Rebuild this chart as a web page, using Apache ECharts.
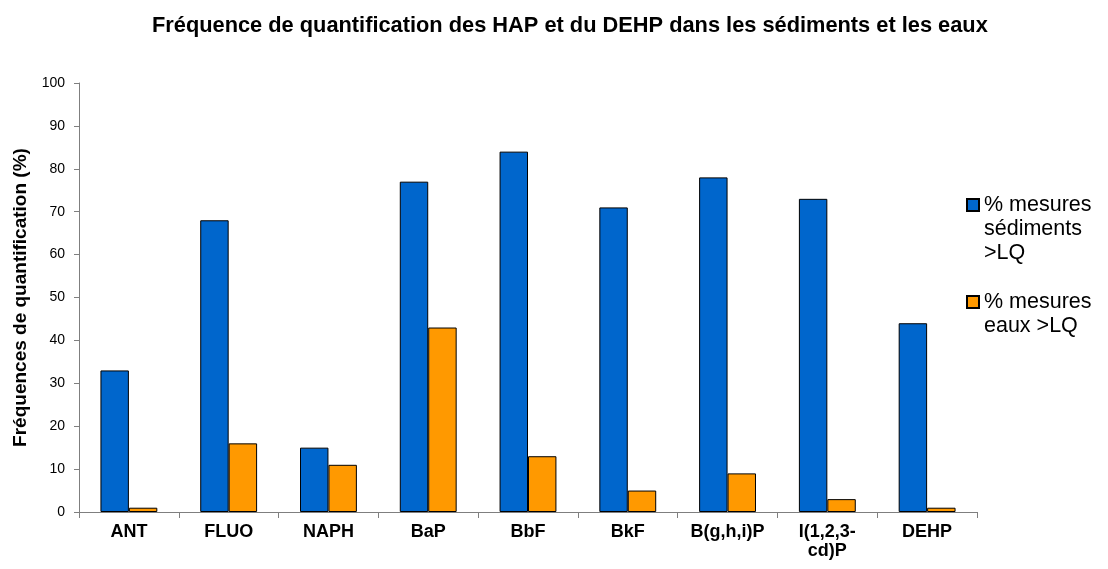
<!DOCTYPE html>
<html>
<head>
<meta charset="utf-8">
<script src="https://cdn.jsdelivr.net/npm/echarts@6/dist/echarts.min.js"></script>
<style>
  html, body { margin: 0; padding: 0; background: #fff; }
  #chart { width: 1108px; height: 569px; }
</style>
</head>
<body>
<div id="chart"></div>
<script>
var categories = ['ANT', 'FLUO', 'NAPH', 'BaP', 'BbF', 'BkF', 'B(g,h,i)P', 'I(1,2,3-\ncd)P', 'DEHP'];
var sediments = [33, 68, 15, 77, 84, 71, 78, 73, 44];
var eaux = [1, 16, 11, 43, 13, 5, 9, 3, 1];
var yTicks = { min: 0, max: 100, interval: 10 };

var nameSed = '% mesures\nsédiments\n>LQ';
var nameEaux = '% mesures\neaux >LQ';

var font = 'Liberation Sans, Arial, sans-serif';
var myChart = echarts.init(document.getElementById('chart'));

// legend text is centred on its icon, so pad the front with empty lines
// to put the icon level with the first line
function legendText(name) {
    var n = name.split('\n').length;
    var pad = '';
    for (var i = 1; i < n; i++) pad += '\n';
    return pad + name;
}

var legendBase = {
    orient: 'vertical',
    left: 966,
    padding: 0,
    icon: 'rect',
    itemWidth: 12,
    itemHeight: 12,
    itemGap: 8,
    formatter: legendText,
    textStyle: { fontFamily: font, fontSize: 21.5, color: '#000', lineHeight: 24 }
};

var option = {
    animation: false,
    title: {
        text: 'Fréquence de quantification des HAP et du DEHP dans les sédiments et les eaux',
        left: 147,
        top: 10,
        textStyle: { fontFamily: font, fontSize: 21.8, fontWeight: 'bold', color: '#000' }
    },
    legend: [
        Object.assign({}, legendBase, { top: 145, data: [nameSed] }),
        Object.assign({}, legendBase, { top: 266, data: [nameEaux] })
    ],
    grid: { left: 79, right: 131, top: 83, bottom: 57 },
    xAxis: {
        type: 'category',
        data: categories,
        axisLine: { lineStyle: { color: '#7f7f7f', width: 1 } },
        axisTick: { show: true, length: 6, inside: false, lineStyle: { color: '#7f7f7f' } },
        axisLabel: {
            interval: 0, margin: 11, color: '#000',
            fontFamily: font, fontSize: 18, fontWeight: 'bold', lineHeight: 19
        }
    },
    yAxis: {
        type: 'value',
        min: yTicks.min,
        max: yTicks.max,
        interval: yTicks.interval,
        name: 'Fréquences de quantification (%)',
        nameLocation: 'middle',
        nameGap: 47,
        nameTextStyle: { fontFamily: font, fontSize: 19, fontWeight: 'bold', color: '#000' },
        splitLine: { show: false },
        axisLine: { show: true, lineStyle: { color: '#7f7f7f', width: 1 } },
        axisTick: { show: true, length: 5, lineStyle: { color: '#7f7f7f' } },
        axisLabel: { margin: 14, color: '#000', fontFamily: font, fontSize: 14 }
    },
    series: [
        {
            name: nameSed,
            type: 'bar',
            data: sediments,
            barCategoryGap: '43%',
            barGap: '0%',
            itemStyle: { color: '#0066cc', borderColor: '#000', borderWidth: 1 }
        },
        {
            name: nameEaux,
            type: 'bar',
            data: eaux,
            itemStyle: { color: '#ff9900', borderColor: '#000', borderWidth: 1 }
        }
    ]
};
myChart.setOption(option);
</script>
</body>
</html>
